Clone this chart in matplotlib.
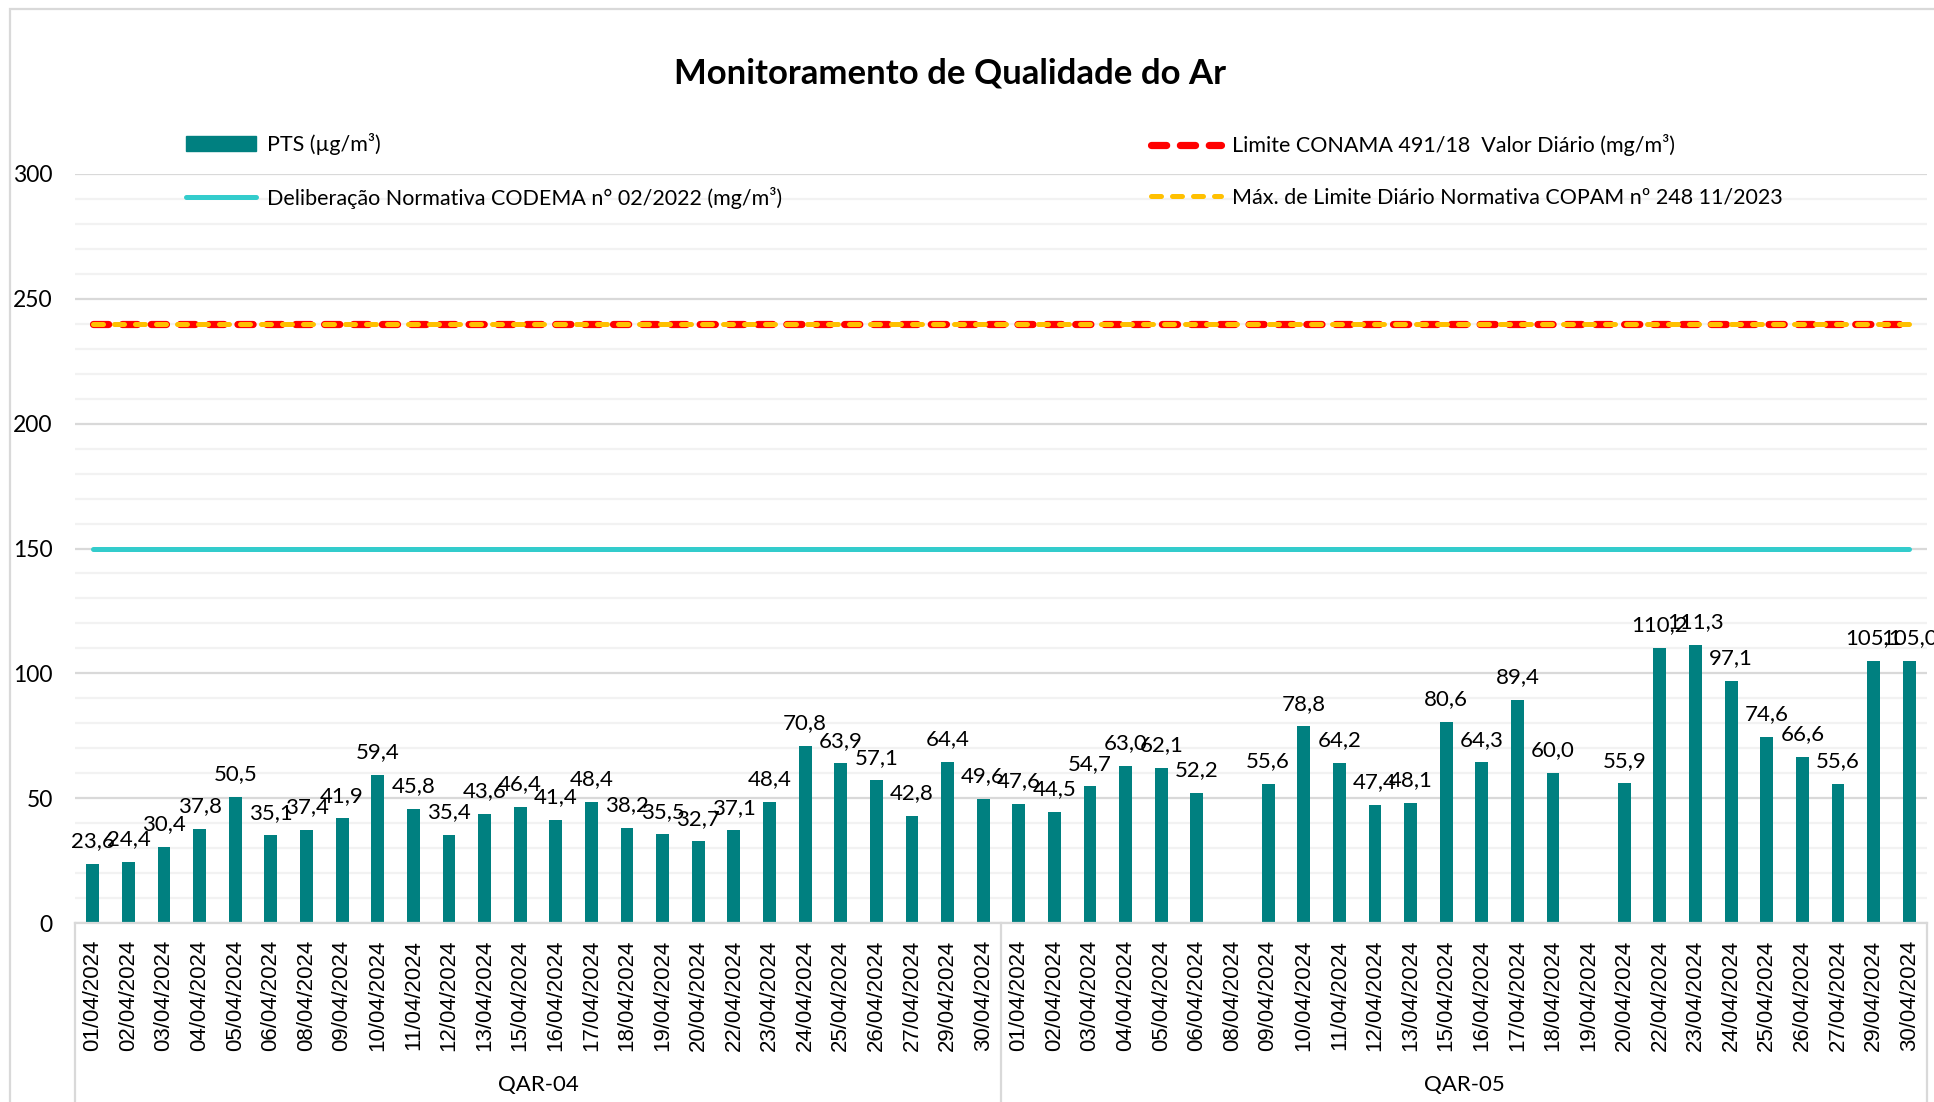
import numpy as np
import matplotlib
matplotlib.use("Agg")
import matplotlib.pyplot as plt
from matplotlib.patches import Rectangle, Patch
from matplotlib.lines import Line2D

# --- data -----------------------------------------------------------------
dates = ["01", "02", "03", "04", "05", "06", "08", "09", "10", "11", "12", "13",
         "15", "16", "17", "18", "19", "20", "22", "23", "24", "25", "26", "27",
         "29", "30"]
date_labels = [f"{d}/04/2024" for d in dates]
groups = ["QAR-04", "QAR-05"]

pts_qar04 = [23.6, 24.4, 30.4, 37.8, 50.5, 35.1, 37.4, 41.9, 59.4, 45.8, 35.4, 43.6,
             46.4, 41.4, 48.4, 38.2, 35.5, 32.7, 37.1, 48.4, 70.8, 63.9, 57.1, 42.8,
             64.4, 49.6]
pts_qar05 = [47.6, 44.5, 54.7, 63.0, 62.1, 52.2, np.nan, 55.6, 78.8, 64.2, 47.4, 48.1,
             80.6, 64.3, 89.4, 60.0, np.nan, 55.9, 110.2, 111.3, 97.1, 74.6, 66.6, 55.6,
             105.1, 105.0]

conama_limit = 240
copam_limit = 240
codema_limit = 150

# --- style ----------------------------------------------------------------
TEAL = "#008080"
CYAN = "#33CCCC"
RED = "#FF0000"
YELLOW = "#FFC000"
GRID = "#D9D9D9"
GRID_MINOR = "#F2F2F2"
TXT = ["Lato", "DejaVu Sans"]
DATEFONT = ["Liberation Sans", "DejaVu Sans"]

values = pts_qar04 + pts_qar05
labels = date_labels + date_labels
n = len(values)
x = np.arange(n)

fig = plt.figure(figsize=(19.34, 11.02), dpi=100)
ax = fig.add_axes([75 / 1934, 1 - 923 / 1102, (1927 - 75) / 1934, (923 - 174) / 1102])

ax.bar(x, values, width=0.36, color=TEAL, zorder=2)
ax.plot(x, [codema_limit] * n, color=CYAN, lw=3.6, solid_capstyle="round", zorder=3)
ax.plot(x, [conama_limit] * n, color=RED, lw=5.2, dashes=(2.1, 1.9),
        dash_capstyle="round", zorder=4)
ax.plot(x, [copam_limit] * n, color=YELLOW, lw=3.6, dashes=(2.0, 2.2),
        dash_capstyle="round", zorder=5)

for xi, v in zip(x, values):
    if np.isnan(v):
        continue
    ax.annotate(f"{v:.1f}".replace(".", ","), (xi, v), xytext=(0, 12),
                textcoords="offset points", ha="center", va="baseline",
                fontsize=16, family=TXT, color="#000000", zorder=6)

ax.set_xlim(-0.5, n - 0.5)
ax.set_ylim(0, 300)
ax.set_yticks(np.arange(0, 301, 50))
ax.set_yticks(np.arange(0, 301, 10), minor=True)
ax.grid(axis="y", which="major", color=GRID, lw=1.6, zorder=0)
ax.grid(axis="y", which="minor", color=GRID_MINOR, lw=1.6, zorder=0)
ax.set_axisbelow(True)
for s in ["top", "right", "left"]:
    ax.spines[s].set_visible(False)
ax.spines["bottom"].set_color(GRID)
ax.spines["bottom"].set_linewidth(1.6)

ax.tick_params(axis="y", which="both", length=0, pad=16, labelsize=16.5)
for t in ax.get_yticklabels():
    t.set_family(TXT)
ax.set_xticks(x)
ax.set_xticklabels(labels, rotation=90, fontsize=16, family=DATEFONT)
ax.tick_params(axis="x", length=0, pad=12)

# group separators and labels under the date labels
xt = ax.get_xaxis_transform()
for bx in [-0.5, len(pts_qar04) - 0.5, n - 0.5]:
    ax.plot([bx, bx], [0, -0.3], transform=xt, clip_on=False, color=GRID, lw=1.6)
ax.text((len(pts_qar04) - 1) / 2, -0.2165, groups[0], transform=xt, ha="center",
        va="center", fontsize=16, family=TXT)
ax.text(len(pts_qar04) + (len(pts_qar05) - 1) / 2, -0.2165, groups[1], transform=xt,
        ha="center", va="center", fontsize=16, family=TXT)

fig.text(950 / 1934, 1 - 74 / 1102, "Monitoramento de Qualidade do Ar", ha="center",
         va="center", fontsize=25, fontweight="bold", family=TXT)

# legend: two columns placed by hand
h_pts = Patch(facecolor=TEAL, edgecolor=TEAL)
h_codema = Line2D([], [], color=CYAN, lw=3.6, solid_capstyle="round")
h_conama = Line2D([], [], color=RED, lw=5.2, dashes=(2.1, 1.9), dash_capstyle="round")
h_copam = Line2D([], [], color=YELLOW, lw=3.6, dashes=(2.0, 2.2), dash_capstyle="round")
leg_kw = dict(frameon=False, loc="center left", borderpad=0, borderaxespad=0,
              handlelength=3.25, handletextpad=0.5, labelspacing=1.48,
              prop={"family": TXT, "size": 15.5}, bbox_transform=fig.transFigure)
leg1 = fig.legend([h_pts, h_codema],
                  ["PTS (µg/m³)", "Deliberação Normativa CODEMA n° 02/2022 (mg/m³)"],
                  bbox_to_anchor=(186 / 1934, 1 - 171 / 1102), **leg_kw)
leg2 = fig.legend([h_conama, h_copam],
                  ["Limite CONAMA 491/18  Valor Diário (mg/m³)",
                   "Máx. de Limite Diário Normativa COPAM nº 248 11/2023"],
                  bbox_to_anchor=(1151 / 1934, 1 - 171 / 1102), **leg_kw)

fig.patches.append(Rectangle((10 / 1934, -0.1), 2, 1.1 - 9 / 1102, transform=fig.transFigure,
                             fill=False, ec=GRID, lw=1.6))

fig.savefig("out.png", dpi=100, facecolor="white")
